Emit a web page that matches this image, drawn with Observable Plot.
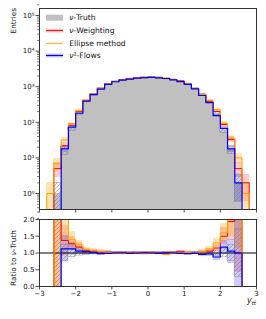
<!DOCTYPE html>
<html><head><meta charset="utf-8">
<script src="https://cdn.jsdelivr.net/npm/d3@7"></script>
<script src="https://cdn.jsdelivr.net/npm/@observablehq/plot@0.6"></script>
<style>
html,body{margin:0;padding:0;background:#fff;}
#chart{position:relative;width:266px;height:319px;overflow:hidden;}
#chart svg{display:block;}
</style></head><body>
<svg width="0" height="0" style="position:absolute">
<defs>
<pattern id="hatch" patternUnits="userSpaceOnUse" width="4" height="4">
<path d="M-1,1 l2,-2 M0,4 l4,-4 M3,5 l2,-2" stroke="#7a7a7a" stroke-width="0.5"/>
</pattern></defs></svg>
<div id="chart"></div>
<script>
// ---- data ----
const binEdges = [-2.8,-2.6,-2.4,-2.2,-2.0,-1.8,-1.6,-1.4,-1.2,-1.0,-0.8,-0.6,-0.4,-0.2,0,0.2,0.4,0.6,0.8,1.0,1.2,1.4,1.6,1.8,2.0,2.2,2.4,2.6,2.8];
const truth     = [0,1,16,65,170,380,590,870,1180,1380,1540,1650,1740,1800,1820,1790,1700,1560,1400,1190,880,590,370,175,58,17,2,0];
const weighting = [0,5,22,83,200,407,620,896,1204,1394,1540,1667,1723,1800,1838,1790,1700,1591,1470,1202,880,602,389,201,87,33,5,2];
const ellipse   = [1,7,32,91,212,418,625,905,1204,1380,1525,1650,1757,1764,1820,1772,1615,1560,1414,1214,880,608,414,228,93,36,10,1];
const flows     = [0,0,18,73,180,395,602,853,1168,1380,1540,1634,1740,1800,1820,1772,1700,1560,1386,1166,871,566,359,154,68,18,2,0];
const xTicks = [-3,-2,-1,0,1,2,3];
const yMajorTicks = [1,10,100,1000,10000,100000];
const ratioTicks = [0,0.5,1,1.5,2];
const legendLabels = ["ν-Truth","ν-Weighting","Ellipse method","ν²-Flows"];

// ---- styling ----
const FONT = "DejaVu Sans";
const floor = 1e-3;
const yMinorTicks = [];
for (let e = -1; e <= 5; e++) for (let k = 2; k <= 9; k++) yMinorTicks.push(k * 10 ** e);
const series = [
  {vals: weighting, color: "#ff0000", alpha: 0.2, width: 1},
  {vals: ellipse,   color: "#ffa500", alpha: 0.3, width: 1},
  {vals: flows,     color: "#0000ff", alpha: 0.2, width: 1.2}
];
const supDigits = "⁰¹²³⁴⁵⁶⁷⁸⁹";
const fmtPow = d => "10" + String(Math.round(Math.log10(d))).replace("-", "⁻").split("").map(c => supDigits[+c] ?? c).join("");
const fmtMinus = d => d < 0 ? "−" + (-d) : String(d);

function stepPts(vals, fl) {
  const pts = [{x: binEdges[0], y: fl}];
  vals.forEach((v, i) => { const y = v > 0 ? v : fl; pts.push({x: binEdges[i], y}, {x: binEdges[i + 1], y}); });
  pts.push({x: binEdges[binEdges.length - 1], y: fl});
  return pts;
}
const bins = truth.map((t, i) => ({x1: binEdges[i], x2: binEdges[i + 1], t}));
const R = {inset: 0, clip: true, shapeRendering: "crispEdges"};

// ---- main panel ----
const mainMarks = [
  Plot.areaY(stepPts(truth, floor), {x: "x", y1: () => floor, y2: "y", fill: "#c0c0c0", clip: true})
];
for (const s of series) {
  const rows = s.vals.map((v, i) => ({x1: binEdges[i], x2: binEdges[i + 1], v})).filter(d => d.v > 0)
    .map(d => ({...d, lo: Math.max(d.v - Math.sqrt(d.v), floor), hi: d.v + Math.sqrt(d.v)}));
  mainMarks.push(Plot.rect(rows, {x1: "x1", x2: "x2", y1: "lo", y2: "hi", fill: s.color, fillOpacity: s.alpha, ...R}));
}
mainMarks.push(Plot.rect(bins.filter(d => d.t > 0), {x1: "x1", x2: "x2", y1: d => Math.max(d.t - Math.sqrt(d.t), floor), y2: d => d.t + Math.sqrt(d.t), fill: "url(#hatch)", stroke: "#8a8a8a", strokeWidth: 0.5, inset: 0, clip: true}));
for (const s of series) {
  mainMarks.push(Plot.line(stepPts(s.vals, floor), {x: "x", y: "y", stroke: s.color, strokeWidth: s.width, clip: true}));
}
mainMarks.push(
  Plot.axisY({ticks: yMinorTicks, tickSize: 2, tickFormat: () => "", stroke: "#222", strokeWidth: 0.6}),
  Plot.axisY({ticks: yMajorTicks, tickSize: 3.5, tickPadding: 1.5, tickFormat: fmtPow, stroke: "#222", strokeWidth: 0.8, fill: "#111", fontSize: 7}),
  Plot.axisX({ticks: xTicks, tickSize: 3.5, tickFormat: () => "", stroke: "#222", strokeWidth: 0.8}),
  Plot.frame({stroke: "#333", strokeWidth: 1})
);
const mainPlot = Plot.plot({
  width: 266, height: 214,
  marginLeft: 39, marginRight: 10, marginTop: 8, marginBottom: 5,
  x: {domain: [-3, 3]},
  y: {type: "log", domain: [10 ** -0.449, 10 ** 5.197]},
  style: {fontFamily: FONT, fontSize: "7px", background: "white", overflow: "visible"},
  marks: mainMarks
});

// ---- ratio panel ----
const ratioMarks = [];
for (const s of series) {
  const rows = s.vals.map((v, i) => ({x1: binEdges[i], x2: binEdges[i + 1], v, t: truth[i]})).filter(d => d.v > 0 && d.t > 0)
    .map(d => { const r = d.v / d.t, e = r * Math.sqrt(1 / d.v + 1 / d.t); return {...d, lo: r - e, hi: r + e}; });
  ratioMarks.push(Plot.rect(rows, {x1: "x1", x2: "x2", y1: "lo", y2: "hi", fill: s.color, fillOpacity: s.alpha, ...R}));
}
ratioMarks.push(Plot.rect(bins.filter(d => d.t > 0), {x1: "x1", x2: "x2", y1: d => 1 - 1 / Math.sqrt(d.t), y2: d => 1 + 1 / Math.sqrt(d.t), fill: "url(#hatch)", stroke: "#8a8a8a", strokeWidth: 0.5, inset: 0, clip: true}));
ratioMarks.push(Plot.ruleY([1], {stroke: "#000", strokeWidth: 1}));
for (const s of series) {
  const r = s.vals.map((v, i) => truth[i] > 0 ? v / truth[i] : 0);
  const pts = [{x: binEdges[0], y: 0}];
  r.forEach((v, i) => pts.push({x: binEdges[i], y: v}, {x: binEdges[i + 1], y: v}));
  pts.push({x: binEdges[binEdges.length - 1], y: 0});
  ratioMarks.push(Plot.line(pts, {x: "x", y: "y", stroke: s.color, strokeWidth: s.width, clip: true}));
}
ratioMarks.push(
  Plot.axisY({ticks: ratioTicks, tickSize: 3.5, tickPadding: 1.5, tickFormat: d => d.toFixed(1), stroke: "#222", strokeWidth: 0.8, fill: "#111", fontSize: 7}),
  Plot.axisX({ticks: xTicks, tickSize: 3.5, tickPadding: 1.5, tickFormat: fmtMinus, stroke: "#222", strokeWidth: 0.8, fill: "#111", fontSize: 7}),
  Plot.frame({stroke: "#333", strokeWidth: 1})
);
const ratioPlot = Plot.plot({
  width: 266, height: 105,
  marginLeft: 39, marginRight: 10, marginTop: 5, marginBottom: 33,
  x: {domain: [-3, 3]},
  y: {domain: [0, 2]},
  style: {fontFamily: FONT, fontSize: "7px", background: "white", overflow: "visible"},
  marks: ratioMarks
});

const chart = document.getElementById("chart");
chart.appendChild(mainPlot);
chart.appendChild(ratioPlot);

// ---- labels and legend ----
const ms = d3.select(mainPlot);
ms.append("text").attr("transform", "translate(16,8) rotate(-90)").attr("text-anchor", "end")
  .attr("font-family", FONT).attr("font-size", 7.3).attr("fill", "#111").text("Entries");
const lg = ms.append("g").attr("font-family", FONT).attr("font-size", 7.6).attr("fill", "#111").attr("text-anchor", "start");
const rowsY = [17.7, 30.6, 43.3, 55.5];
lg.append("rect").attr("x", 46).attr("y", rowsY[0] - 3).attr("width", 17).attr("height", 6).attr("fill", "#c0c0c0");
series.forEach((s, i) => {
  const y = rowsY[i + 1];
  if (i !== 1) lg.append("rect").attr("x", 46).attr("y", y - 2).attr("width", 17).attr("height", 4).attr("fill", s.color).attr("fill-opacity", s.alpha);
  lg.append("line").attr("x1", 46).attr("x2", 63).attr("y1", y).attr("y2", y).attr("stroke", s.color).attr("stroke-width", s.width);
});
legendLabels.forEach((lab, i) => {
  const t = lg.append("text").attr("x", 69.3).attr("y", rowsY[i]).attr("dy", "0.35em").attr("text-anchor", "start");
  if (lab.startsWith("ν")) {
    t.append("tspan").attr("font-style", "italic").text("ν");
    t.append("tspan").text(lab.slice(1));
  } else t.text(lab);
});

const rs = d3.select(ratioPlot);
const rl = rs.append("text").attr("transform", "translate(16,44) rotate(-90)").attr("text-anchor", "middle")
  .attr("font-family", FONT).attr("font-size", 7.3).attr("fill", "#111");
rl.append("tspan").text("Ratio to ");
rl.append("tspan").attr("font-style", "italic").text("ν");
rl.append("tspan").text("-Truth");
const xl = rs.append("text").attr("x", 256).attr("y", 89).attr("text-anchor", "end")
  .attr("font-family", FONT).attr("fill", "#111").attr("font-style", "italic");
xl.append("tspan").attr("font-size", 8).text("y");
xl.append("tspan").attr("font-size", 5.5).attr("dy", 2).text("tt\u0304");
</script>
</body></html>
